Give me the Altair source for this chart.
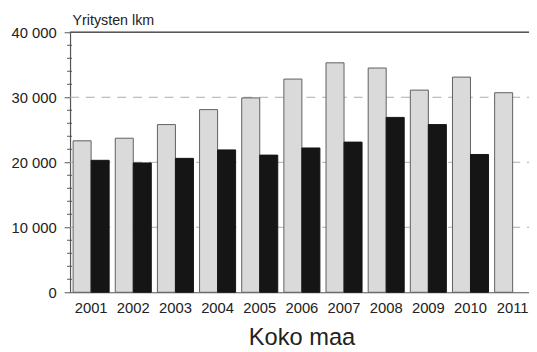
import altair as alt
import pandas as pd

years = ["2001", "2002", "2003", "2004", "2005", "2006", "2007", "2008", "2009", "2010", "2011"]
series_light = [23300, 23700, 25800, 28100, 29900, 32800, 35300, 34500, 31100, 33100, 30700]
series_dark = [20300, 19900, 20600, 21900, 21100, 22200, 23100, 26900, 25800, 21200]
grid_values = [10000, 20000, 30000]
minor_values = [2000, 4000, 6000, 8000, 12000, 14000, 16000, 18000,
                22000, 24000, 26000, 28000, 32000, 34000, 36000, 38000]
y_ticks = [0, 10000, 20000, 30000, 40000]

light_df = pd.DataFrame({"year": years, "series": "a", "value": series_light})
dark_df = pd.DataFrame({"year": years[:len(series_dark)], "series": "b", "value": series_dark})
grid_df = pd.DataFrame({"value": grid_values})
minor_df = pd.DataFrame({"value": minor_values})

FONT = "Liberation Sans"
W, H = 456, 264
yscale = alt.Scale(domain=[0, 40000], nice=False, zero=True)
xscale = alt.Scale(domain=years, range=[0, 470.8], paddingInner=0.145, paddingOuter=0.0725)
offscale = alt.Scale(domain=["a", "b"], paddingInner=0, paddingOuter=0)

y_axis = alt.Axis(values=y_ticks, grid=False, domain=True, domainColor="#555555",
                  domainWidth=1.2, tickColor="#555555", tickSize=6, tickWidth=1,
                  labelExpr="replace(format(datum.value, ',d'), ',', ' ')",
                  labelFont=FONT, labelFontSize=15, labelColor="#222222",
                  labelPadding=8, orient="left",
                  title="Yritysten lkm", titleAngle=0, titleX=2, titleY=-8,
                  titleAlign="left", titleBaseline="alphabetic",
                  titleFont=FONT, titleFontSize=14.5, titleFontWeight="normal",
                  titleColor="#222222")

x_axis = alt.Axis(title="Koko maa", labelAngle=0, ticks=False, domain=True,
                  domainColor="#555555", domainWidth=1.2,
                  labelFont=FONT, labelFontSize=15, labelColor="#222222",
                  labelPadding=9,
                  titleFont=FONT, titleFontSize=24, titleFontWeight="normal",
                  titleColor="#222222", titleX=235, titleY=53,
                  titleBaseline="alphabetic", titleAlign="center")

grid = alt.Chart(grid_df).mark_rule(color="#ababab", strokeDash=[9, 7], strokeWidth=1).encode(
    y=alt.Y("value:Q", scale=yscale, axis=y_axis),
    x=alt.value(0), x2=alt.value(466),
)

topline = alt.Chart(grid_df).mark_rule(color="#555555", strokeWidth=1.2).encode(
    y=alt.value(0), x=alt.value(0), x2=alt.value(466),
)

minor = alt.Chart(minor_df).mark_rule(color="#555555", strokeWidth=1).encode(
    y=alt.Y("value:Q", scale=yscale, axis=y_axis),
    x=alt.value(-3), x2=alt.value(2),
)

light = alt.Chart(light_df).mark_bar(fill="#dadada", stroke="#5f5f5f", strokeWidth=1).encode(
    x=alt.X("year:N", scale=xscale, axis=x_axis),
    xOffset=alt.XOffset("series:N", scale=offscale),
    y=alt.Y("value:Q", scale=yscale, axis=y_axis),
)

dark = alt.Chart(dark_df).mark_bar(fill="#151515", stroke="#151515", strokeWidth=1).encode(
    x=alt.X("year:N", scale=xscale, axis=x_axis),
    xOffset=alt.XOffset("series:N", scale=offscale),
    y=alt.Y("value:Q", scale=yscale, axis=y_axis),
)

chart = alt.layer(grid, topline, minor, light, dark).properties(
    width=W, height=H,
    autosize=alt.AutoSizeParams(type="none"),
    padding={"left": 63, "top": 22, "right": 10, "bottom": 58},
).configure(background="white").configure_view(stroke=None)

chart.save("out.html", embed_options={"renderer": "svg", "actions": False})
